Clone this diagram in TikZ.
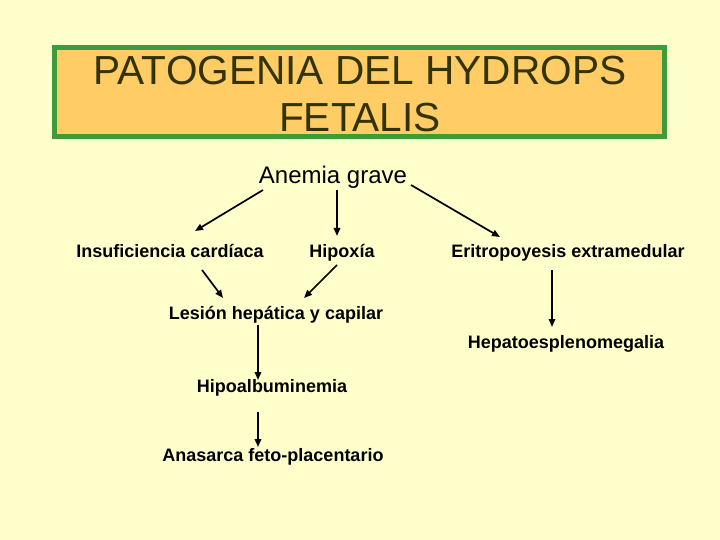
\documentclass[tikz,border=0pt]{standalone}
\usepackage{fontspec}
\setmainfont{Liberation Sans}
\usetikzlibrary{arrows.meta}
\definecolor{bg}{HTML}{FFFFCC}
\definecolor{titlefill}{HTML}{FFCC66}
\definecolor{titleborder}{HTML}{3F9A3A}
\definecolor{titletext}{HTML}{333300}
\begin{document}
\begin{tikzpicture}[x=1pt,y=-1pt,
  lbl/.style={font=\fontsize{18}{21}\selectfont\bfseries, inner sep=0pt, anchor=base},
  ttl/.style={font=\fontsize{40.6}{49}\selectfont, text=titletext, inner sep=0pt, anchor=base},
  arr/.style={line width=1.7pt, -{Triangle[length=8pt,width=6.5pt]}}]
\fill[bg] (0,0) rectangle (720,540);
\useasboundingbox (0,0) rectangle (720,540);
% title
\node[draw=titleborder, line width=5pt, fill=titlefill, minimum width=610pt, minimum height=89pt, inner sep=0pt] (titlebox) at (359.5,92) {};
\node[ttl] (title1) at (360,85) {PATOGENIA DEL HYDROPS};
\node[ttl] (title2) at (360,132) {FETALIS};
% nodes
\node[font=\fontsize{24}{28}\selectfont, inner sep=0pt, anchor=base] (anemia) at (333,184) {Anemia grave};
\node[lbl] (insuf) at (170,258) {Insuficiencia cardíaca};
\node[lbl] (hipoxia) at (342,257) {Hipoxía};
\node[lbl] (erit) at (568,258) {Eritropoyesis extramedular};
\node[lbl] (lesion) at (276,319) {Lesión hepática y capilar};
\node[lbl] (hepato) at (566,348) {Hepatoesplenomegalia};
\node[lbl] (hipoalb) at (272,392) {Hipoalbuminemia};
\node[lbl] (anasarca) at (273,461) {Anasarca feto-placentario};
% connectors
\draw[arr] ([shift={(-70,6)}]anemia.base) -- ([shift={(25,-27)}]insuf.base);
\draw[arr] ([shift={(4,6)}]anemia.base) -- ([shift={(-5,-21)}]hipoxia.base);
\draw[arr] ([shift={(78,1)}]anemia.base) -- ([shift={(-68,-21)}]erit.base);
\draw[arr] ([shift={(32,12)}]insuf.base) -- ([shift={(-53,-21)}]lesion.base);
\draw[arr] ([shift={(-5,8)}]hipoxia.base) -- ([shift={(28,-21)}]lesion.base);
\draw[arr] ([shift={(-16,12)}]erit.base) -- ([shift={(-14,-21)}]hepato.base);
\draw[arr] ([shift={(-18,6)}]lesion.base) -- ([shift={(-14,-12)}]hipoalb.base);
\draw[arr] ([shift={(-14,20)}]hipoalb.base) -- ([shift={(-15,-14)}]anasarca.base);
\end{tikzpicture}
\end{document}
